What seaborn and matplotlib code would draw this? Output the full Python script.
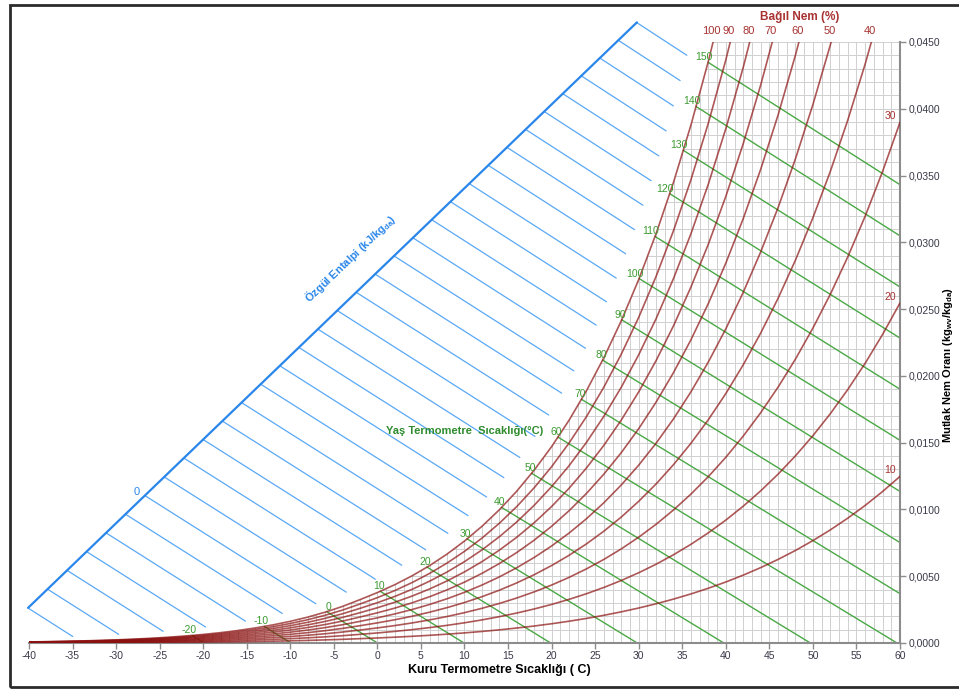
import numpy as np
import pandas as pd
import matplotlib
matplotlib.use("Agg")
import matplotlib.pyplot as plt
import seaborn as sns
from matplotlib.patches import Polygon, Rectangle
from matplotlib.ticker import FuncFormatter

# saturation vapour pressure table (kPa), every 2 C (ice below 0)
TEMP = [-40, -38, -36, -34, -32, -30, -28, -26, -24, -22, -20, -18, -16, -14,
        -12, -10, -8, -6, -4, -2, 0, 2, 4, 6, 8, 10, 12, 14, 16, 18, 20, 22,
        24, 26, 28, 30, 32, 34, 36, 38, 40, 42, 44, 46, 48, 50, 52, 54, 56, 58, 60]
P_SAT = [0.01284, 0.01605, 0.02000, 0.02485, 0.03077, 0.03799, 0.04675, 0.05736,
         0.07016, 0.08556, 0.10401, 0.12602, 0.15221, 0.18328, 0.22003, 0.26337,
         0.31433, 0.37410, 0.44400, 0.52555, 0.61115, 0.70599, 0.81355, 0.93536,
         1.0730, 1.2282, 1.4028, 1.5990, 1.8188, 2.0647, 2.3392, 2.6452, 2.9856,
         3.3637, 3.7828, 4.2467, 4.7592, 5.3247, 5.9474, 6.6322, 7.3837, 8.2071,
         9.1076, 10.091, 11.163, 12.335, 13.608, 14.997, 16.505, 18.143, 19.920]
P_ATM = 101.325

RH_LEVELS = [10, 20, 30, 40, 50, 60, 70, 80, 90, 100]
RH_TOP = [40, 50, 60, 70, 80, 90, 100]
RH_SIDE = [10, 20, 30]
ENTH_GREEN = [-20, -10, 0, 10, 20, 30, 40, 50, 60, 70, 80, 90, 100, 110,
              120, 130, 140, 150]
ENTH_BLUE = [-34.0, -28.3, -22.6, -16.9, -11.2, -5.5, 0.2, 5.9, 11.7, 17.4,
             23.1, 28.8, 34.5, 40.2, 45.9, 51.6, 57.4, 63.1, 68.8, 74.5, 80.2,
             85.9, 91.6, 97.3, 103.1, 108.8, 114.5, 120.2, 125.9, 131.6, 137.3,
             143.0, 148.7]
DIAG_T = [-40.1, 29.8]
DIAG_W = [0.00263, 0.04647]
X_TICKS = [-40, -35, -30, -25, -20, -15, -10, -5, 0, 5, 10, 15, 20, 25, 30,
           35, 40, 45, 50, 55, 60]
Y_TICKS = [0.0, 0.005, 0.010, 0.015, 0.020, 0.025, 0.030, 0.035, 0.040, 0.045]

RED = "#8b1010"
RED_TXT = "#a83232"
GREEN = "#4aa845"
GREEN_TXT = "#3c9a30"
BLUE = "#5aa8f5"
BLUE_DARK = "#2a86ea"


def hum_ratio(pv):
    return 0.622 * pv / (P_ATM - pv)


def enth_w(h, t):
    return (h - 1.006 * t) / (2501 + 1.86 * t)


t = np.array(TEMP, float)
ps = np.array(P_SAT)
w_sat = hum_ratio(ps)
h_sat = 1.006 * t + w_sat * (2501 + 1.86 * t)

sns.set_theme(style="white")
plt.rcParams["font.family"] = ["Liberation Sans", "DejaVu Sans"]
plt.rcParams["axes.unicode_minus"] = False

fig = plt.figure(figsize=(9.59, 6.89), dpi=100)
ax = fig.add_axes([0.0302, 0.0668, 0.9083, 0.8723])
ax.set_xlim(-40, 60)
ax.set_ylim(0, 0.045)

# grid only below the saturation curve
t45 = np.interp(0.045, w_sat, t)
inside = t < t45
verts = [(-40, 0)] + list(zip(t[inside], w_sat[inside])) + \
        [(t45, 0.045), (60, 0.045), (60, 0)]
clip = Polygon(verts, closed=True, transform=ax.transData, fc="none", ec="none")
ax.add_patch(clip)
vl = ax.vlines(np.arange(-40, 61, 1), 0, 0.045, colors="#d0d0d0", lw=0.7, zorder=1)
hl = ax.hlines(np.arange(0, 0.0451, 0.001), -40, 60, colors="#d0d0d0", lw=0.7, zorder=1)
vl.set_clip_path(clip)
hl.set_clip_path(clip)

# green enthalpy lines
green_rows = []
green_start = []
for h in ENTH_GREEN:
    t0 = np.interp(h, h_sat, t)
    w0 = np.interp(t0, t, w_sat)
    t1 = min(h / 1.006, 60)
    w1 = max(enth_w(h, t1), 0)
    green_start.append((t0, w0))
    green_rows.append(pd.DataFrame({"T": [t0, t1], "w": [w0, w1], "h": h}))
green_df = pd.concat(green_rows)
sns.lineplot(data=green_df, x="T", y="w", units="h", estimator=None, sort=False,
             color=GREEN, lw=1.0, ax=ax, legend=False, zorder=2)

# relative humidity curves
rh_rows = []
for rh in RH_LEVELS:
    rh_rows.append(pd.DataFrame({"T": t, "w": hum_ratio(rh / 100 * ps), "rh": rh}))
rh_df = pd.concat(rh_rows)
sns.lineplot(data=rh_df, x="T", y="w", units="rh", estimator=None, sort=False,
             color=RED, alpha=0.7, lw=1.2, ax=ax, legend=False, zorder=3)

# blue enthalpy scale: lines start on the diagonal, stop near saturation
b = (DIAG_W[1] - DIAG_W[0]) / (DIAG_T[1] - DIAG_T[0])
a = DIAG_W[0] - b * DIAG_T[0]
blue_rows = []
for h in ENTH_BLUE:
    A = 1.86 * b
    B = 1.006 + 2501 * b + 1.86 * a
    C = 2501 * a - h
    ts = (-B + np.sqrt(B * B - 4 * A * C)) / (2 * A)
    tsat = np.interp(h, h_sat, t)
    te = tsat - 0.02 * (tsat + 75)
    blue_rows.append(pd.DataFrame({"T": [ts, te],
                                   "w": [a + b * ts, enth_w(h, te)], "h": h}))
blue_df = pd.concat(blue_rows)
sns.lineplot(data=blue_df, x="T", y="w", units="h", estimator=None, sort=False,
             color=BLUE, lw=0.9, ax=ax, legend=False, zorder=2, clip_on=False)
sns.lineplot(x=DIAG_T, y=DIAG_W, color=BLUE_DARK, lw=1.6, ax=ax, legend=False,
             zorder=2, clip_on=False)

# labels
for h, (t0, w0) in zip(ENTH_GREEN, green_start):
    ax.annotate(str(h), (t0, w0), xytext=(3, 0), textcoords="offset points",
                ha="right", va="bottom", color=GREEN_TXT, fontsize=7.5)
for rh in RH_TOP:
    tt = np.interp(0.045, hum_ratio(rh / 100 * ps), t)
    ax.annotate(str(rh), (tt, 0.045), xytext=(-1, 4), textcoords="offset points",
                ha="center", va="bottom", color=RED_TXT, fontsize=8,
                annotation_clip=False)
for rh in RH_SIDE:
    ax.annotate(str(rh), (60, hum_ratio(rh / 100 * ps[-1])), xytext=(-3, 1),
                textcoords="offset points", ha="right", va="bottom",
                color=RED_TXT, fontsize=7.5)

fig.text(800 / 959, 1 - 17 / 689, "Bağıl Nem (%)", ha="center", va="center",
         color=RED_TXT, fontsize=8.5, fontweight="bold")
ax.text(19.0, 0.0159, "Yaş Termometre  Sıcaklığı(°C)", ha="right", va="center",
        color="#2e8b2e", fontsize=8, fontweight="bold")
ax.text(-3.15, 0.0288, r"Özgül Entalpi (kJ/kg$_{\mathregular{da}}$)",
        rotation=43.7, rotation_mode="anchor", ha="center", va="center",
        color=BLUE_DARK, fontsize=8, fontweight="bold")
ax.text(-27.6, 0.01128, "0", ha="center", va="center", color=BLUE_DARK, fontsize=8)

# axes styling
for s in ["top", "left"]:
    ax.spines[s].set_visible(False)
for s in ["bottom", "right"]:
    ax.spines[s].set_color("#8c8c8c")
    ax.spines[s].set_linewidth(1.5)
ax.set_xticks(X_TICKS)
ax.set_yticks(Y_TICKS)
ax.yaxis.tick_right()
ax.yaxis.set_major_formatter(FuncFormatter(lambda v, p: f"{v:.4f}".replace(".", ",")))
ax.tick_params(axis="x", bottom=True, direction="out", length=4, width=1,
               color="#8c8c8c", labelsize=7.5, labelcolor="#3a3a4a", pad=2)
ax.tick_params(axis="y", right=True, left=False, direction="out", length=4,
               width=1, color="#8c8c8c", labelsize=7.5, labelcolor="#3a3a4a", pad=2)

ax.set_xlabel("Kuru Termometre Sıcaklığı ( C)", fontsize=9, fontweight="bold",
              color="black")
ax.xaxis.set_label_coords(0.54, -0.035)
ax.yaxis.set_label_position("right")
ax.set_ylabel(r"Mutlak Nem Oranı (kg$_{\mathregular{wv}}$/kg$_{\mathregular{da}}$)",
              fontsize=8, fontweight="bold", color="black")
ax.yaxis.set_label_coords(1.047, 0.4626)

fig.add_artist(Rectangle((0.0104, 0.003), 1.0, 0.9897, transform=fig.transFigure,
                         fill=False, ec="#2b2b2b", lw=2))

fig.savefig("out.png", dpi=100, facecolor="white")
